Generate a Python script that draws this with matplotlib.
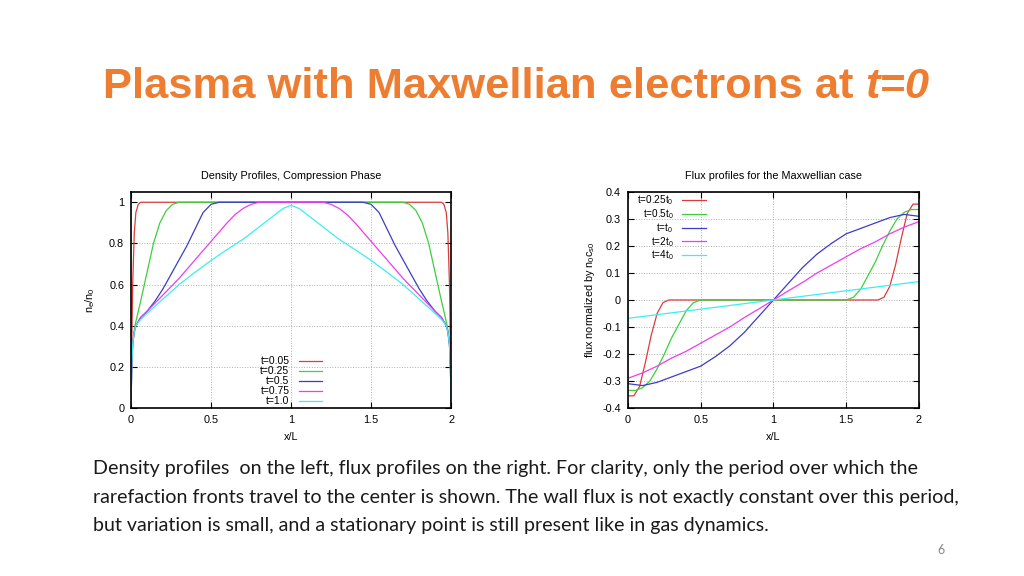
import matplotlib
matplotlib.use("Agg")
import matplotlib.pyplot as plt

plt.rcParams['font.family'] = ['Liberation Sans', 'DejaVu Sans']
plt.rcParams['mathtext.fontset'] = 'custom'
plt.rcParams['mathtext.rm'] = 'Liberation Sans'
plt.rcParams['mathtext.it'] = 'Liberation Sans'
plt.rcParams['axes.unicode_minus'] = False

# ---- density profiles (left) ----
dens_labels = ["t=0.05", "t=0.25", "t=0.5", "t=0.75", "t=1.0"]
dens_x_red = [0, 0.004, 0.01, 0.02, 0.03, 0.045, 0.06, 1.94, 1.955, 1.97, 1.98, 1.99, 1.996, 2.0]
dens_y_red = [0.02, 0.3, 0.6, 0.85, 0.95, 0.99, 1.0, 1.0, 0.99, 0.95, 0.85, 0.6, 0.3, 0.02]
dens_x_green = [0, 0.004, 0.01, 0.02, 0.03, 0.06, 0.1, 0.14, 0.18, 0.22, 0.26, 0.3,
                1.7, 1.74, 1.78, 1.82, 1.86, 1.9, 1.94, 1.97, 1.98, 1.99, 1.996, 2.0]
dens_y_green = [0.02, 0.2, 0.31, 0.38, 0.42, 0.52, 0.66, 0.8, 0.9, 0.96, 0.99, 1.0,
                1.0, 0.99, 0.96, 0.9, 0.8, 0.66, 0.52, 0.42, 0.38, 0.31, 0.2, 0.02]
dens_x_blue = [0, 0.004, 0.01, 0.02, 0.03, 0.06, 0.1, 0.15, 0.2, 0.25, 0.3, 0.35, 0.4, 0.45, 0.5, 0.55,
               1.45, 1.5, 1.55, 1.6, 1.65, 1.7, 1.75, 1.8, 1.85, 1.9, 1.94, 1.97, 1.98, 1.99, 1.996, 2.0]
dens_y_blue = [0.02, 0.2, 0.31, 0.37, 0.4, 0.44, 0.47, 0.52, 0.58, 0.65, 0.72, 0.79, 0.87, 0.95, 0.99, 1.0,
               1.0, 0.99, 0.95, 0.87, 0.79, 0.72, 0.65, 0.58, 0.52, 0.47, 0.44, 0.4, 0.37, 0.31, 0.2, 0.02]
dens_x_mag = [0, 0.004, 0.01, 0.02, 0.03, 0.06, 0.1, 0.2, 0.3, 0.4, 0.5, 0.6, 0.65, 0.7, 0.75, 0.8,
              1.2, 1.25, 1.3, 1.35, 1.4, 1.5, 1.6, 1.7, 1.8, 1.9, 1.94, 1.97, 1.98, 1.99, 1.996, 2.0]
dens_y_mag = [0.02, 0.2, 0.31, 0.37, 0.4, 0.44, 0.47, 0.55, 0.63, 0.72, 0.81, 0.9, 0.94, 0.97, 0.99, 1.0,
              1.0, 0.99, 0.97, 0.94, 0.9, 0.81, 0.72, 0.63, 0.55, 0.47, 0.44, 0.4, 0.37, 0.31, 0.2, 0.02]
dens_x_cyan = [0, 0.004, 0.01, 0.02, 0.03, 0.06, 0.1, 0.2, 0.3, 0.4, 0.5, 0.6, 0.7, 0.8, 0.9, 0.95, 1.0,
               1.05, 1.1, 1.2, 1.3, 1.4, 1.5, 1.6, 1.7, 1.8, 1.9, 1.94, 1.97, 1.98, 1.99, 1.996, 2.0]
dens_y_cyan = [0.02, 0.2, 0.31, 0.37, 0.4, 0.43, 0.46, 0.53, 0.6, 0.66, 0.717, 0.77, 0.82, 0.88, 0.94, 0.97, 0.985,
               0.97, 0.94, 0.88, 0.82, 0.77, 0.717, 0.66, 0.6, 0.53, 0.46, 0.43, 0.4, 0.37, 0.31, 0.2, 0.02]

# ---- flux profiles (right) ----
flux_labels = ["t=0.25t$_0$", "t=0.5t$_0$", "t=t$_0$", "t=2t$_0$", "t=4t$_0$"]
flux_x_red = [0, 0.04, 0.08, 0.12, 0.16, 0.2, 0.24, 0.28, 0.32, 1.68, 1.72, 1.76, 1.8, 1.84, 1.88, 1.92, 1.96, 2.0]
flux_y_red = [-0.355, -0.355, -0.32, -0.23, -0.13, -0.05, -0.01, 0, 0, 0, 0, 0.01, 0.05, 0.13, 0.23, 0.32, 0.355, 0.355]
flux_x_green = [0, 0.05, 0.1, 0.15, 0.2, 0.25, 0.3, 0.35, 0.4, 0.45, 0.5, 0.55,
                1.45, 1.5, 1.55, 1.6, 1.65, 1.7, 1.75, 1.8, 1.85, 1.9, 1.95, 2.0]
flux_y_green = [-0.335, -0.335, -0.325, -0.3, -0.255, -0.2, -0.14, -0.09, -0.04, -0.01, 0, 0,
                0, 0, 0.01, 0.04, 0.09, 0.14, 0.2, 0.255, 0.3, 0.325, 0.335, 0.335]
flux_x_grid = [0, 0.1, 0.2, 0.3, 0.4, 0.5, 0.6, 0.7, 0.8, 0.9, 1.0,
               1.1, 1.2, 1.3, 1.4, 1.5, 1.6, 1.7, 1.8, 1.9, 2.0]
flux_y_blue = [-0.31, -0.317, -0.305, -0.285, -0.265, -0.245, -0.21, -0.17, -0.12, -0.06, 0,
               0.06, 0.12, 0.17, 0.21, 0.245, 0.265, 0.285, 0.305, 0.317, 0.31]
flux_y_mag = [-0.29, -0.27, -0.245, -0.215, -0.19, -0.16, -0.13, -0.1, -0.065, -0.033, 0,
              0.033, 0.065, 0.1, 0.13, 0.16, 0.19, 0.215, 0.245, 0.27, 0.29]
flux_x_cyan = [0, 0.5, 1.0, 1.5, 2.0]
flux_y_cyan = [-0.068, -0.034, 0, 0.034, 0.068]

colors = ['#dd3c3c', '#3cd03c', '#3c3cc8', '#ee3cee', '#3ceeee']
orange = '#ED7D31'

fig = plt.figure(figsize=(10.24, 5.76), dpi=100)


def gnuplot_style(ax):
    ax.tick_params(direction='in', top=True, right=True, length=4, width=0.8,
                   labelsize=7.8, pad=5)
    ax.grid(True, linestyle=':', color='#b0b0b0', linewidth=0.7)
    for s in ax.spines.values():
        s.set_linewidth(1.2)


ax1 = fig.add_axes([0.128, 0.2917, 0.3125, 0.375])
dens = [(dens_x_red, dens_y_red), (dens_x_green, dens_y_green), (dens_x_blue, dens_y_blue),
        (dens_x_mag, dens_y_mag), (dens_x_cyan, dens_y_cyan)]
for (xs, ys), c, lab in zip(dens, colors, dens_labels):
    ax1.plot(xs, ys, color=c, lw=0.9, label=lab)
ax1.set_xlim(0, 2)
ax1.set_ylim(0, 1.05)
ax1.set_xticks([0, 0.5, 1, 1.5, 2])
ax1.set_xticklabels(["0", "0.5", "1", "1.5", "2"])
ax1.set_yticks([0, 0.2, 0.4, 0.6, 0.8, 1])
ax1.set_yticklabels(["0", "0.2", "0.4", "0.6", "0.8", "1"])
gnuplot_style(ax1)
ax1.set_title("Density Profiles, Compression Phase", fontsize=7.8, pad=9)
ax1.set_xlabel("x/L", fontsize=7.8, labelpad=5)
ax1.set_ylabel("n$_e$/n$_0$", fontsize=7.8, labelpad=9)
ax1.legend(loc='lower center', bbox_to_anchor=(0.5, -0.035), markerfirst=False, frameon=False,
           fontsize=7.5, handlelength=2.2, handletextpad=0.9, labelspacing=0.0)

ax2 = fig.add_axes([0.6133, 0.2917, 0.284, 0.375])
fl = [(flux_x_red, flux_y_red), (flux_x_green, flux_y_green), (flux_x_grid, flux_y_blue),
      (flux_x_grid, flux_y_mag), (flux_x_cyan, flux_y_cyan)]
for (xs, ys), c, lab in zip(fl, colors, flux_labels):
    ax2.plot(xs, ys, color=c, lw=0.9, label=lab)
ax2.set_xlim(0, 2)
ax2.set_ylim(-0.4, 0.4)
ax2.set_xticks([0, 0.5, 1, 1.5, 2])
ax2.set_xticklabels(["0", "0.5", "1", "1.5", "2"])
yt = [-0.4, -0.3, -0.2, -0.1, 0, 0.1, 0.2, 0.3, 0.4]
ax2.set_yticks(yt)
ax2.set_yticklabels(["-0.4", "-0.3", "-0.2", "-0.1", "0", "0.1", "0.2", "0.3", "0.4"])
gnuplot_style(ax2)
ax2.set_title("Flux profiles for the Maxwellian case", fontsize=7.8, pad=9)
ax2.set_xlabel("x/L", fontsize=7.8, labelpad=5)
ax2.set_ylabel("flux normalized by n$_0$c$_{s0}$", fontsize=7.8, labelpad=4)
ax2.legend(loc='upper left', bbox_to_anchor=(0.0, 1.035), markerfirst=False, frameon=False,
           fontsize=7.2, handlelength=2.4, handletextpad=0.8, labelspacing=0.0)

# ---- slide title ----
t1 = fig.text(103 / 1024, 1 - 98 / 576, "Plasma with Maxwellian electrons at ", color=orange,
              fontsize=31.3, fontweight='bold', va='baseline', ha='left')
fig.canvas.draw()
bb = t1.get_window_extent()
fig.text(bb.x1 / 1024, 1 - 98 / 576, "t=0", color=orange, fontsize=31.3, fontweight='bold',
         fontstyle='italic', va='baseline', ha='left')

body = ("Density profiles  on the left, flux profiles on the right. For clarity, only the period over which the\n"
        "rarefaction fronts travel to the center is shown. The wall flux is not exactly constant over this period,\n"
        "but variation is small, and a stationary point is still present like in gas dynamics.")
fig.text(93 / 1024, 1 - 497 / 576, body, fontsize=14.1, family='Lato', color='#1a1a1a',
         va='center', ha='left', linespacing=1.8)
fig.text(941 / 1024, 1 - 550 / 576, "6", fontsize=9, family='Lato', color='#888888',
         va='center', ha='center')

fig.savefig("out.png", dpi=100)
